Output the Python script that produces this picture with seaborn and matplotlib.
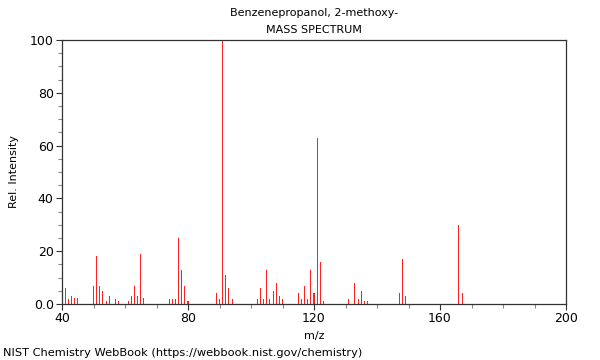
import matplotlib
matplotlib.use("Agg")
import matplotlib.pyplot as plt
import seaborn as sns
import pandas as pd
from matplotlib.ticker import MultipleLocator, FixedLocator, FixedFormatter

mz = [41, 42, 43, 44, 45, 50, 51, 52, 53, 54, 55, 57, 58, 61, 62, 63, 64, 65, 66,
      74, 75, 76, 77, 78, 79, 80, 89, 90, 91, 92, 93, 94,
      102, 103, 104, 105, 106, 107, 108, 109, 110, 115, 116, 117, 118, 119, 120,
      121, 122, 123, 131, 133, 134, 135, 136, 137, 147, 148, 149, 166, 167]
intensity = [6, 2, 3, 2.3, 2.3, 7, 18, 7, 5, 1, 3, 2, 1, 1, 3, 7, 3, 19, 2.3,
             2, 2, 2, 25, 13, 7, 1, 4, 2, 100, 11, 6, 2,
             2, 6, 2, 13, 2, 5, 8, 3, 2, 4, 2, 7, 2, 13, 4,
             63, 16, 1, 2, 8, 2, 5, 1, 1, 4, 17, 3, 30, 4]

title_lines = ["Benzenepropanol, 2-methoxy-", "MASS SPECTRUM"]
x_ticks = [40, 80, 120, 160, 200]
y_ticks = [0, 20, 40, 60, 80, 100]
y_tick_labels = ["0.0", "20", "40", "60", "80", "100"]

sns.set_theme(style="ticks")
plt.rcParams['font.family'] = ['DejaVu Sans']
plt.rcParams['text.color'] = 'black'
plt.rcParams['axes.labelcolor'] = 'black'
plt.rcParams['xtick.color'] = 'black'
plt.rcParams['ytick.color'] = 'black'

df = pd.DataFrame({"mz": mz, "intensity": intensity})

fig = plt.figure(figsize=(6, 3.6), dpi=100)
ax = fig.add_axes([62/600, 56/360, 504/600, 264/360])
sns.barplot(data=df, x="mz", y="intensity", native_scale=True, width=0.32,
            color="#ff2020", saturation=1, linewidth=0, ax=ax)

ax.set_xlim(40, 200)
ax.set_ylim(0, 100)
ax.xaxis.set_major_locator(FixedLocator(x_ticks))
ax.xaxis.set_minor_locator(MultipleLocator(10))
ax.yaxis.set_major_locator(FixedLocator(y_ticks))
ax.yaxis.set_major_formatter(FixedFormatter(y_tick_labels))
ax.yaxis.set_minor_locator(MultipleLocator(5))
ax.tick_params(which="major", direction="out", length=4, width=0.8, color="#333333",
               labelsize=9, pad=2, labelcolor="black")
ax.tick_params(which="minor", direction="out", length=3, width=0.8, color="#888888")
for s in ax.spines.values():
    s.set_visible(True)
    s.set_color("#333333")
    s.set_linewidth(0.9)

ax.set_xlabel("m/z", fontsize=8, labelpad=4, color="black")
ax.set_ylabel("Rel. Intensity", fontsize=8, labelpad=8, color="black")
fig.text(314/600, 1 - 13/360, title_lines[0], ha="center", va="center", fontsize=8, color="black")
fig.text(314/600, 1 - 30/360, title_lines[1], ha="center", va="center", fontsize=8, color="black")
fig.text(3/600, 1 - 353/360, "NIST Chemistry WebBook (https://webbook.nist.gov/chemistry)",
         ha="left", va="center", fontsize=8.2, color="black")

fig.savefig("out.png", dpi=100)
